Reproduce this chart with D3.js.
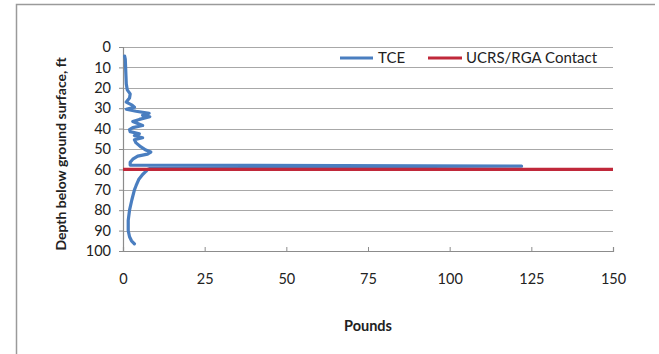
<!DOCTYPE html>
<html><head><meta charset="utf-8">
<script src="https://cdn.jsdelivr.net/npm/d3@7"></script>
<style>html,body{margin:0;padding:0;background:#fff;}svg{display:block;font-family:Lato,"Open Sans",sans-serif;}</style>
</head><body><svg id="c" width="659" height="354"></svg>
<script>
// Data
const depthTicks = [0,10,20,30,40,50,60,70,80,90,100];
const poundTicks = [0,25,50,75,100,125,150];
const tceDepth = [4.5,6,10,14,18,21,23,25,27,28.5,29.5,30.5,31.5,32.5,33.5,34.2,35.5,36.5,37.5,38.5,39.5,40.5,41.5,42.5,43.5,44.5,45.5,47,49,50.5,51.5,52.5,53.5,55,56.5,57.9,58.4,59,60,61,62.5,65,68,70,75,80,85,90,93,95,96.5];
const tcePounds = [0.5,0.7,0.8,0.9,1.0,1.3,2.2,2.0,1.0,2.8,3.5,1.0,4,8.0,6,8.2,5,3,4.5,6,3,2,2.2,5,3.5,6,3.5,4,5.5,7,8.5,7.5,4.5,3,2.2,2.2,122,9,7.5,7,6,4.8,4,3.5,2.7,2.0,1.6,1.6,2.0,2.6,3.5];
const contactDepth = 60;
const contactPounds = [0,150];
const seriesNames = ["TCE","UCRS/RGA Contact"];
const colors = ["#4A7EC0","#C0283A"];

const svg = d3.select("#c");
const x = d3.scaleLinear().domain([0,150]).range([123,613]);
const y = d3.scaleLinear().domain([0,100]).range([47,251]);

// frame (only top and left visible in the reference)
svg.append("path").attr("d","M16.5,354 L16.5,4.5 L655,4.5").attr("fill","none").attr("stroke","#9a9a9a").attr("stroke-width",1.5);

// gridlines
svg.append("g").selectAll("line").data(depthTicks.slice(0,-1)).join("line")
  .attr("x1",x(0)).attr("x2",x(150)).attr("y1",d=>Math.round(y(d))+0.5).attr("y2",d=>Math.round(y(d))+0.5)
  .attr("stroke","#a8a8a8").attr("stroke-width",1);

// axes
const yAxis = d3.axisLeft(y).tickValues(depthTicks).tickSize(4).tickPadding(8);
const gy = svg.append("g").attr("transform",`translate(${x(0)},0)`).call(yAxis);
const xAxis = d3.axisBottom(x).tickValues(poundTicks).tickSize(-4).tickPadding(23);
const gx = svg.append("g").attr("transform",`translate(0,${y(100)})`).call(xAxis);
[gy,gx].forEach(g=>{
  g.select(".domain").attr("stroke","#8c8c8c").attr("stroke-width",1.2);
  g.selectAll(".tick line").attr("stroke","#8c8c8c");
  g.selectAll("text").attr("font-family","Lato, sans-serif").attr("font-size",14.5).attr("fill","#222");
});

// series
const line = d3.line().x(d=>x(d[1])).y(d=>y(d[0]));
svg.append("path").datum(tceDepth.map((d,i)=>[d,tcePounds[i]]))
  .attr("d",line).attr("fill","none").attr("stroke",colors[0]).attr("stroke-width",3.2)
  .attr("stroke-linejoin","round").attr("stroke-linecap","round");
svg.append("path").datum(contactPounds.map(p=>[contactDepth,p]))
  .attr("d",line).attr("fill","none").attr("stroke",colors[1]).attr("stroke-width",3.2);

// legend
const leg = [{x1:340,x2:373,tx:378},{x1:428,x2:462,tx:466}];
leg.forEach((l,i)=>{
  svg.append("line").attr("x1",l.x1).attr("x2",l.x2).attr("y1",58).attr("y2",58).attr("stroke",colors[i]).attr("stroke-width",3);
  svg.append("text").attr("x",l.tx).attr("y",63).attr("font-size",15).attr("fill","#222").text(seriesNames[i]);
});

// titles
svg.append("text").attr("x",368).attr("y",331).attr("text-anchor","middle").attr("font-size",14.5).attr("font-weight","bold").attr("fill","#222").text("Pounds");
svg.append("text").attr("transform","translate(66,154) rotate(-90)").attr("text-anchor","middle").attr("font-size",14).attr("font-weight","bold").attr("fill","#222").text("Depth below ground surface, ft");
</script></body></html>
